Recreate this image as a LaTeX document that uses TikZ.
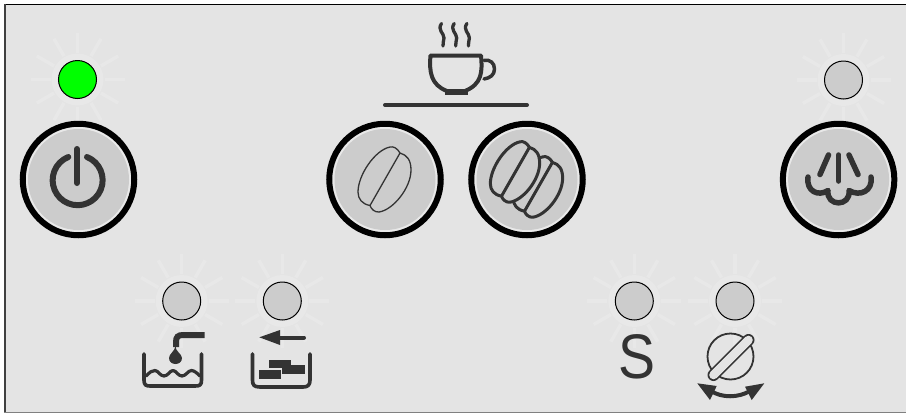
\documentclass[tikz,border=0pt]{standalone}
\usepackage{fontspec}
\setmainfont{Liberation Sans}
\usetikzlibrary{calc}
\definecolor{panel}{HTML}{E4E4E4}
\definecolor{ink}{HTML}{333333}
\definecolor{rayc}{HTML}{E8E8E8}
\definecolor{ringc}{HTML}{E9E9E9}
\definecolor{btn}{HTML}{CCCCCC}
\tikzset{
  icon/.style={draw=ink,line width=4pt,line cap=round,line join=round},
  lamp/.style={circle,draw=black,line width=1pt,fill=btn,minimum size=38pt,inner sep=0pt},
  button/.style={circle,draw=black,line width=6pt,fill=ringc,minimum size=111.5pt,inner sep=0pt},
  buttonface/.style={circle,fill=btn,minimum size=101pt,inner sep=0pt},
}
\newcommand{\glow}[2]{%
  \fill[rayc] (#1,#2) circle (26);
  \foreach \a in {0,30,...,330}
    \draw[rayc,line width=3.5pt] ($(#1,#2)+(\a:27)$) -- ($(#1,#2)+(\a:47)$);
}
% bean outline, drawn around its own centre
\newcommand{\beanoutline}{%
  (15.5,-26.5) .. controls (13,-31) and (9,-33.5) .. (5.5,-32.5)
  .. controls (-9.5,-29.5) and (-26.5,-4.5) .. (-26.5,12.5)
  .. controls (-26.5,19.5) and (-22.5,24.5) .. (-14.5,26)
  .. controls (-13.5,29.5) and (-9.5,33) .. (-5.5,32.5)
  .. controls (8.5,30.5) and (26.5,8.5) .. (26.5,-9.5)
  .. controls (26.5,-19.5) and (22.5,-24.5) .. (15.5,-26.5) -- cycle
  (15.5,-26.5) -- (-14.5,26)}
\begin{document}
\begin{tikzpicture}[x=1pt,y=-1pt]
\useasboundingbox (0,0) rectangle (906,413);
\fill[white] (0,0) rectangle (906,413);
\fill[panel] (5,4.5) rectangle (906,412);
\draw[black,line width=1.4pt] (4.7,4.5) -- (906,4.5);
\draw[black!75,line width=1.6pt] (4.8,4) -- (4.8,412);
\draw[black!50,line width=1.2pt] (4,412.4) -- (906,412.4);
% glows
\glow{77.5}{79.5}\glow{843.5}{80}\glow{181.7}{301}\glow{282.3}{301}\glow{634.3}{301}\glow{735}{301}
% lamps
\node[lamp,fill=green] (ledpower) at (77.5,79.5) {};
\node[lamp] (ledsteam) at (843.5,80) {};
\node[lamp] (ledwater) at (181.7,301) {};
\node[lamp] (ledgrounds) at (282.3,301) {};
\node[lamp] (leds) at (634.3,301) {};
\node[lamp] (ledrinse) at (735,301) {};
% buttons
\foreach \n/\x in {power/78.5,one/385,two/527,steam/838.6}{
  \node[button] (b\n) at (\x,179.5) {};
  \node[buttonface] (f\n) at (\x,179.5) {};
}
% power icon
\draw[icon,line width=6pt] (77,149) -- (77,183);
\draw[icon,line width=6pt] (87,157) arc[start angle=-68,delta angle=316,radius=25];
% cup
\foreach \s in {0,12.7,25.4}{
  \draw[icon,line width=3.3pt,shift={(\s,0)}] (441.5,23.5) .. controls (437,30) and (444,33) .. (444,38) .. controls (444,41) and (442.5,43) .. (443,46);
}
\draw[icon] (430.5,55.5) -- (481,55.5) .. controls (482.5,72) and (482,84) .. (465,91) -- (447,91) .. controls (431,85) and (429,72) .. (430.5,55.5) -- cycle;
\draw[icon,line width=3.5pt] (484,60.5) .. controls (490,59) and (494.5,63) .. (494.5,69) .. controls (494.5,75) and (490,78) .. (484,79);
\fill[ink] (445,89) rectangle (468,95);
\draw[icon] (385,105) -- (527,105);
% bean one
\draw[icon,line width=1.3pt,shift={(384.5,179.5)}] \beanoutline;
% bean two
\begin{scope}[shift={(538,187)},scale=.93]
\draw[icon,line width=3pt,fill=btn] \beanoutline;
\end{scope}
\begin{scope}[shift={(515,172)},scale=.93]
\draw[icon,line width=3pt,fill=btn] \beanoutline;
\end{scope}
% steam icon
\draw[icon,line width=5.5pt] (838.7,155) -- (838.7,181);
\draw[icon,line width=5.5pt] (828.5,155) -- (820,174.5);
\draw[icon,line width=5.5pt] (849,155) -- (858,174.5);
\draw[icon,line width=5.5pt] (808,177) .. controls (806,191) and (818,197) .. (828,190.5) .. controls (826,207) and (851,207) .. (849,190.5) .. controls (860,197) and (873,191) .. (871,177);
% water icon
\draw[icon,line width=3.6pt] (144,354) -- (144,380) .. controls (144,385) and (146,386) .. (150,386) -- (195,386) .. controls (200,386) and (201.5,385) .. (201.5,380) -- (201.5,354);
\draw[icon,line width=3.2pt] (146,376) .. controls (150,372) and (152,370.5) .. (155,370.5) .. controls (158,370.5) and (160,376) .. (164,376) .. controls (168,376) and (170,370.5) .. (173,370.5) .. controls (176,370.5) and (178,376) .. (182,376) .. controls (186,376) and (188,370.5) .. (191.5,370.5) .. controls (194,370.5) and (197,373) .. (200,376);
\draw[ink,line width=6pt] (204.5,335) -- (183,335) .. controls (178,335) and (176,337) .. (176,342) -- (176,347);
\fill[ink] (175.5,346) .. controls (175,351) and (182,354) .. (182,358) .. controls (182,366) and (169,366) .. (169,358) .. controls (169,354) and (175,351) .. (175.5,346) -- cycle;
% grounds icon
\draw[icon,line width=3.6pt] (252.5,354) -- (252.5,380) .. controls (252.5,385) and (254,387) .. (260,387) -- (303,387) .. controls (308,387) and (310,385) .. (310,380) -- (310,354);
\fill[ink] (259,370) rectangle (281,379);
\fill[ink] (269,359.5) rectangle (291,368);
\fill[ink] (282,365) rectangle (305,374);
\draw[icon,line width=4pt] (278,337.5) -- (304,337.5);
\fill[ink] (259.3,337.3) -- (280,330) -- (280,345) -- cycle;
% S
\node[text=ink,font=\fontsize{63}{63}\selectfont,inner sep=0pt,xscale=.88,transform shape] (slabel) at (636.5,357) {S};
% rinse icon
\draw[ink,line width=1.8pt] (730.5,356.5) circle (23);
\draw[ink,line width=12pt,line cap=round] (713.5,375) -- (748.5,340);
\draw[panel,line width=8.6pt,line cap=round] (713.5,375) -- (748.5,340);
\draw[icon,line width=4pt,line cap=butt] (711,391) .. controls (722,398) and (738,398) .. (750,391);
\fill[ink] (697.3,383.3) -- (716.7,386) -- (710,400) -- cycle;
\fill[ink] (764.3,383.3) -- (745,386.7) -- (751.7,400) -- cycle;
\end{tikzpicture}
\end{document}
